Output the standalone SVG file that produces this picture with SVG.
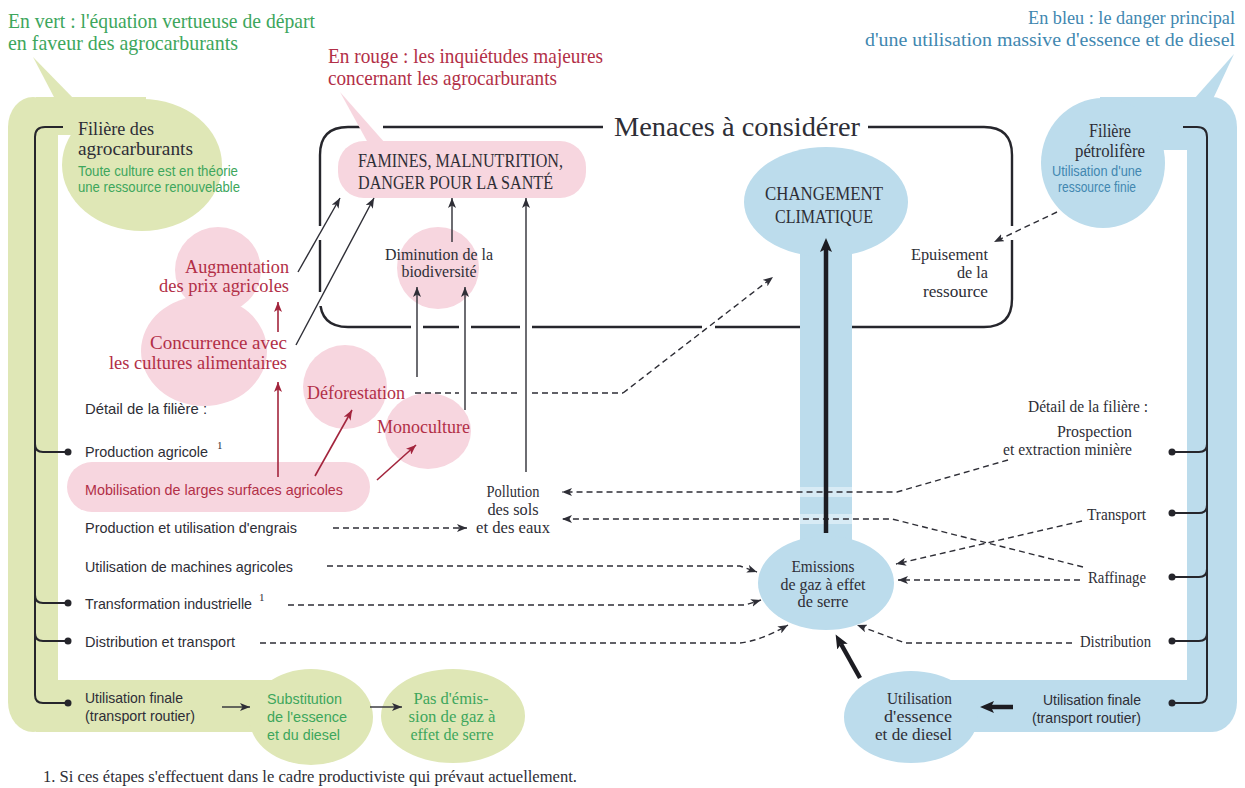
<svg xmlns="http://www.w3.org/2000/svg" width="1245" height="788" viewBox="0 0 1245 788">
<style>
  .sf{font-family:"Liberation Serif","Times New Roman",serif}
  .ss{font-family:"Liberation Sans",Arial,sans-serif}
  .dk{fill:#2e2e36}
  .gr{fill:#3da65c}
  .rd{fill:#b22f47}
  .bl{fill:#4187b0}
  .gfill{fill:#dfe7b6}
  .pfill{fill:#f7d6df}
  .bfill{fill:#bcdcec}
  .ln{fill:none;stroke:#26262c;stroke-width:2.4}
  .br{fill:none;stroke:#26262c;stroke-width:2}
  .dot{fill:#26262c}
  .ar{fill:none;stroke:#2e2e36;stroke-width:1.4;marker-end:url(#ah)}
  .ard{fill:none;stroke:#2e2e36;stroke-width:1.4;stroke-dasharray:6 4;marker-end:url(#ah)}
  .dsh{fill:none;stroke:#2e2e36;stroke-width:1.4;stroke-dasharray:6 4}
  .arr{fill:none;stroke:#a3253d;stroke-width:1.6;marker-end:url(#ahr)}
  .thk{fill:none;stroke:#1c1c22;stroke-width:4.5;marker-end:url(#ahb)}
  .gap{fill:#ffffff}
  .e{text-anchor:end}
  .m{text-anchor:middle}
</style>
<defs>
  <marker id="ah" viewBox="0 0 10 8" refX="10" refY="4" markerWidth="10" markerHeight="8" orient="auto" markerUnits="userSpaceOnUse">
    <path d="M0,0 L10,4 L0,8 L2.5,4 z" fill="#2e2e36"/>
  </marker>
  <marker id="ahr" viewBox="0 0 10 8" refX="10" refY="4" markerWidth="10" markerHeight="8" orient="auto" markerUnits="userSpaceOnUse">
    <path d="M0,0 L10,4 L0,8 L2.5,4 z" fill="#a3253d"/>
  </marker>
  <marker id="ahb" viewBox="0 0 14 12" refX="3" refY="6" markerWidth="14" markerHeight="12" orient="auto" markerUnits="userSpaceOnUse">
    <path d="M0,0 L14,6 L0,12 L3,6 z" fill="#1c1c22"/>
  </marker>
</defs>

<rect width="1245" height="788" fill="#ffffff"/>

<!-- green chain: biofuels -->
<g id="filiere-agro">
  <rect class="gfill" x="8" y="97" width="50" height="635" rx="30"/>
  <rect class="gfill" x="36" y="97" width="110" height="38"/>
  <rect class="gfill" x="36" y="680" width="270" height="52"/>
  <ellipse class="gfill" cx="142" cy="165" rx="80" ry="66"/>
  <polygon class="gfill" points="33,57 55,99 74,99"/>
  <path class="br" d="M63,127 H45 Q35,127 35,137 V695 Q35,703 43,703 H68"/>
  <path class="br" d="M35,444 Q35,452 43,452 H68 M35,595 Q35,603 43,603 H68 M35,633 Q35,641 43,641 H68"/>
  <circle class="dot" cx="68" cy="452" r="3.5"/>
  <circle class="dot" cx="68" cy="603" r="3.5"/>
  <circle class="dot" cx="68" cy="641" r="3.5"/>
  <circle class="dot" cx="68" cy="703" r="3.5"/>
  <text class="sf dk" x="78" y="135" font-size="19" textLength="76" lengthAdjust="spacingAndGlyphs">Filière des</text>
  <text class="sf dk" x="78" y="155" font-size="19" textLength="115" lengthAdjust="spacingAndGlyphs">agrocarburants</text>
  <text class="ss gr" x="78" y="176" font-size="14" textLength="160" lengthAdjust="spacingAndGlyphs">Toute culture est en théorie</text>
  <text class="ss gr" x="78" y="192" font-size="14" textLength="162" lengthAdjust="spacingAndGlyphs">une ressource renouvelable</text>
  <text class="ss dk" x="85" y="414" font-size="14.5" textLength="122" lengthAdjust="spacingAndGlyphs">Détail de la filière :</text>
  <text class="ss dk" x="85" y="457" font-size="14.5" textLength="123" lengthAdjust="spacingAndGlyphs">Production agricole</text>
  <text class="sf dk" x="217" y="449" font-size="11">1</text>
  <text class="ss dk" x="85" y="533" font-size="14.5" textLength="212" lengthAdjust="spacingAndGlyphs">Production et utilisation d'engrais</text>
  <text class="ss dk" x="85" y="572" font-size="14.5" textLength="208" lengthAdjust="spacingAndGlyphs">Utilisation de machines agricoles</text>
  <text class="ss dk" x="85" y="609" font-size="14.5" textLength="167" lengthAdjust="spacingAndGlyphs">Transformation industrielle</text>
  <text class="sf dk" x="259" y="601" font-size="11">1</text>
  <text class="ss dk" x="85" y="647" font-size="14.5" textLength="150" lengthAdjust="spacingAndGlyphs">Distribution et transport</text>
  <text class="ss dk" x="85" y="703" font-size="14.5" textLength="98" lengthAdjust="spacingAndGlyphs">Utilisation finale</text>
  <text class="ss dk" x="85" y="721" font-size="14.5" textLength="110" lengthAdjust="spacingAndGlyphs">(transport routier)</text>
</g>

<g id="substitution">
  <ellipse class="gfill" cx="311" cy="717" rx="62" ry="48"/>
  <text class="ss gr" x="267" y="704" font-size="15" textLength="75" lengthAdjust="spacingAndGlyphs">Substitution</text>
  <text class="ss gr" x="267" y="722" font-size="15" textLength="80" lengthAdjust="spacingAndGlyphs">de l'essence</text>
  <text class="ss gr" x="267" y="740" font-size="15" textLength="73" lengthAdjust="spacingAndGlyphs">et du diesel</text>
</g>

<g id="pas-emission">
  <ellipse class="gfill" cx="453" cy="716" rx="72" ry="47"/>
  <text class="sf gr m" x="451" y="704" font-size="17" textLength="75" lengthAdjust="spacingAndGlyphs">Pas d'émis-</text>
  <text class="sf gr m" x="452" y="722" font-size="17" textLength="87" lengthAdjust="spacingAndGlyphs">sion de gaz à</text>
  <text class="sf gr m" x="452" y="740" font-size="17" textLength="83" lengthAdjust="spacingAndGlyphs">effet de serre</text>
</g>

<!-- blue chain: oil -->
<g id="filiere-petrole">
  <rect class="bfill" x="1187" y="97" width="50" height="635" rx="30"/>
  <rect class="bfill" x="1100" y="97" width="110" height="53"/>
  <rect class="bfill" x="911" y="680" width="300" height="52"/>
  <ellipse class="bfill" cx="1103" cy="163" rx="62" ry="65"/>
  <polygon class="bfill" points="1234,54 1194,99 1213,99"/>
  <path class="br" d="M1183,127 H1197 Q1207,127 1207,137 V695 Q1207,703 1199,703 H1172"/>
  <path class="br" d="M1172,452 H1199 Q1207,452 1207,444 M1172,513 H1199 Q1207,513 1207,505 M1172,577 H1199 Q1207,577 1207,569 M1172,641 H1199 Q1207,641 1207,633"/>
  <circle class="dot" cx="1172" cy="452" r="3.5"/>
  <circle class="dot" cx="1172" cy="513" r="3.5"/>
  <circle class="dot" cx="1172" cy="577" r="3.5"/>
  <circle class="dot" cx="1172" cy="641" r="3.5"/>
  <circle class="dot" cx="1172" cy="703" r="3.5"/>
  <text class="sf dk m" x="1110" y="137" font-size="18" textLength="42" lengthAdjust="spacingAndGlyphs">Filière</text>
  <text class="sf dk m" x="1110" y="157" font-size="18" textLength="70" lengthAdjust="spacingAndGlyphs">pétrolifère</text>
  <text class="ss bl m" x="1097" y="176" font-size="14" textLength="90" lengthAdjust="spacingAndGlyphs">Utilisation d'une</text>
  <text class="ss bl m" x="1097" y="192" font-size="14" textLength="78" lengthAdjust="spacingAndGlyphs">ressource finie</text>
  <text class="sf dk e" x="1148" y="412" font-size="16" textLength="120" lengthAdjust="spacingAndGlyphs">Détail de la filière :</text>
  <text class="sf dk e" x="1132" y="437" font-size="16" textLength="75" lengthAdjust="spacingAndGlyphs">Prospection</text>
  <text class="sf dk e" x="1132" y="455" font-size="16" textLength="129" lengthAdjust="spacingAndGlyphs">et extraction minière</text>
  <text class="sf dk e" x="1146" y="520" font-size="16" textLength="59" lengthAdjust="spacingAndGlyphs">Transport</text>
  <text class="sf dk e" x="1146" y="583" font-size="16" textLength="58" lengthAdjust="spacingAndGlyphs">Raffinage</text>
  <text class="sf dk e" x="1151" y="647" font-size="16" textLength="71" lengthAdjust="spacingAndGlyphs">Distribution</text>
  <text class="ss dk e" x="1141" y="705" font-size="14.5" textLength="98" lengthAdjust="spacingAndGlyphs">Utilisation finale</text>
  <text class="ss dk e" x="1141" y="723" font-size="14.5" textLength="109" lengthAdjust="spacingAndGlyphs">(transport routier)</text>
</g>

<g id="utilisation-essence">
  <ellipse class="bfill" cx="911" cy="717" rx="67" ry="46"/>
  <text class="sf dk e" x="952" y="704" font-size="17" textLength="65" lengthAdjust="spacingAndGlyphs">Utilisation</text>
  <text class="sf dk e" x="952" y="722" font-size="17" textLength="68" lengthAdjust="spacingAndGlyphs">d'essence</text>
  <text class="sf dk e" x="952" y="740" font-size="17" textLength="77" lengthAdjust="spacingAndGlyphs">et de diesel</text>
</g>

<!-- climate change with its stem down to emissions -->
<g id="changement-climatique">
  <rect class="bfill" x="800" y="235" width="52" height="320"/>
  <rect x="800" y="487" width="52" height="10" fill="#d8ebf5"/>
  <rect x="800" y="514" width="52" height="10" fill="#d8ebf5"/>
  <ellipse class="bfill" cx="826" cy="202" rx="82" ry="55"/>
  <text class="sf dk m" x="824" y="200" font-size="19" textLength="118" lengthAdjust="spacingAndGlyphs">CHANGEMENT</text>
  <text class="sf dk m" x="824" y="223" font-size="19" textLength="98" lengthAdjust="spacingAndGlyphs">CLIMATIQUE</text>
</g>

<g id="emissions">
  <ellipse class="bfill" cx="826" cy="583" rx="68" ry="47"/>
  <text class="sf dk m" x="823" y="572" font-size="16" textLength="63" lengthAdjust="spacingAndGlyphs">Emissions</text>
  <text class="sf dk m" x="823" y="590" font-size="16" textLength="85" lengthAdjust="spacingAndGlyphs">de gaz à effet</text>
  <text class="sf dk m" x="823" y="607" font-size="16" textLength="51" lengthAdjust="spacingAndGlyphs">de serre</text>
</g>

<!-- threats frame -->
<g id="menaces">
  <path class="ln" d="M360,127 H348 Q320,127 320,155 V299 Q320,327 348,327 H800"/>
  <path class="ln" d="M383,127 H603"/>
  <path class="ln" d="M868,127 H984 Q1012,127 1012,155 V299 Q1012,327 984,327 H852"/>
  <rect class="gap" x="411" y="322" width="12" height="10"/>
  <rect class="gap" x="459" y="322" width="12" height="10"/>
  <rect class="gap" x="520" y="322" width="12" height="10"/>
  <rect class="gap" x="702" y="322" width="13" height="10"/>
  <rect class="gap" x="315" y="226" width="10" height="14"/>
  <rect class="gap" x="314" y="292" width="11" height="14"/>
  <rect class="gap" x="1007" y="226" width="10" height="14"/>
  <text class="sf dk" x="614" y="136" font-size="28" textLength="246" lengthAdjust="spacingAndGlyphs">Menaces à considérer</text>
</g>

<g id="famines">
  <polygon class="pfill" points="340,92 368,143 385,143"/>
  <rect class="pfill" x="338" y="141" width="248" height="57" rx="26"/>
  <text class="sf dk" x="358" y="167" font-size="18" textLength="205" lengthAdjust="spacingAndGlyphs">FAMINES, MALNUTRITION,</text>
  <text class="sf dk" x="358" y="189" font-size="18" textLength="195" lengthAdjust="spacingAndGlyphs">DANGER POUR LA SANTÉ</text>
</g>

<g id="augmentation-prix">
  <circle class="pfill" cx="218" cy="270" r="43"/>
  <text class="sf rd e" x="289" y="273" font-size="19" textLength="104" lengthAdjust="spacingAndGlyphs">Augmentation</text>
  <text class="sf rd e" x="289" y="292" font-size="19" textLength="130" lengthAdjust="spacingAndGlyphs">des prix agricoles</text>
</g>

<g id="concurrence">
  <ellipse class="pfill" cx="204" cy="351" rx="63" ry="55"/>
  <text class="sf rd e" x="287" y="349" font-size="19" textLength="137" lengthAdjust="spacingAndGlyphs">Concurrence avec</text>
  <text class="sf rd e" x="287" y="369" font-size="19" textLength="178" lengthAdjust="spacingAndGlyphs">les cultures alimentaires</text>
</g>

<g id="deforestation">
  <circle class="pfill" cx="345" cy="387" r="42"/>
  <text class="sf rd" x="307" y="399" font-size="19" textLength="98" lengthAdjust="spacingAndGlyphs">Déforestation</text>
</g>

<g id="monoculture">
  <ellipse class="pfill" cx="428" cy="431" rx="43" ry="38"/>
  <text class="sf rd" x="377" y="433" font-size="19" textLength="93" lengthAdjust="spacingAndGlyphs">Monoculture</text>
</g>

<g id="biodiversite">
  <circle class="pfill" cx="438" cy="268" r="41"/>
  <text class="sf dk m" x="439" y="260" font-size="16" textLength="108" lengthAdjust="spacingAndGlyphs">Diminution de la</text>
  <text class="sf dk m" x="439" y="277" font-size="16" textLength="75" lengthAdjust="spacingAndGlyphs">biodiversité</text>
</g>

<g id="mobilisation">
  <rect class="pfill" x="67" y="462" width="303" height="50" rx="25"/>
  <text class="ss rd" x="85" y="495" font-size="15" textLength="258" lengthAdjust="spacingAndGlyphs">Mobilisation de larges surfaces agricoles</text>
</g>

<g id="pollution">
  <text class="sf dk m" x="513" y="497" font-size="16" textLength="53" lengthAdjust="spacingAndGlyphs">Pollution</text>
  <text class="sf dk m" x="513" y="515" font-size="16" textLength="51" lengthAdjust="spacingAndGlyphs">des sols</text>
  <text class="sf dk m" x="513" y="533" font-size="16" textLength="74" lengthAdjust="spacingAndGlyphs">et des eaux</text>
</g>

<g id="epuisement">
  <text class="sf dk e" x="988" y="260" font-size="16" textLength="77" lengthAdjust="spacingAndGlyphs">Epuisement</text>
  <text class="sf dk e" x="988" y="278" font-size="16" textLength="31" lengthAdjust="spacingAndGlyphs">de la</text>
  <text class="sf dk e" x="988" y="297" font-size="16" textLength="65" lengthAdjust="spacingAndGlyphs">ressource</text>
</g>

<g id="legendes">
  <text class="sf gr" x="8" y="28" font-size="21" textLength="307" lengthAdjust="spacingAndGlyphs">En vert : l'équation vertueuse de départ</text>
  <text class="sf gr" x="8" y="50" font-size="21" textLength="230" lengthAdjust="spacingAndGlyphs">en faveur des agrocarburants</text>
  <text class="sf rd" x="328" y="63" font-size="21" textLength="275" lengthAdjust="spacingAndGlyphs">En rouge : les inquiétudes majeures</text>
  <text class="sf rd" x="328" y="85" font-size="21" textLength="229" lengthAdjust="spacingAndGlyphs">concernant les agrocarburants</text>
  <text class="sf bl e" x="1235" y="24" font-size="18.5" textLength="207" lengthAdjust="spacingAndGlyphs">En bleu : le danger principal</text>
  <text class="sf bl e" x="1235" y="46" font-size="18.5" textLength="370" lengthAdjust="spacingAndGlyphs">d'une utilisation massive d'essence et de diesel</text>
  <text class="sf dk" x="43" y="782" font-size="16" textLength="534" lengthAdjust="spacingAndGlyphs">1. Si ces étapes s'effectuent dans le cadre productiviste qui prévaut actuellement.</text>
</g>

<g id="connecteurs">
  <!-- solid causal links -->
  <path class="ar" d="M298,272 L340,198"/>
  <path class="ar" d="M296,345 L374,198"/>
  <path class="ar" d="M452,242 V198"/>
  <path class="ar" d="M526,472 V198"/>
  <path class="ar" d="M417,377 V287"/>
  <path class="ar" d="M465,410 V287"/>
  <path class="ar" d="M222,707 H250"/>
  <path class="ar" d="M370,707 H402"/>
  <!-- red links -->
  <path class="arr" d="M278,332 V302"/>
  <path class="arr" d="M278,477 V382"/>
  <path class="arr" d="M315,476 L352,410"/>
  <path class="arr" d="M377,480 L416,445"/>
  <!-- deforestation towards climate -->
  <path class="dsh" d="M415,393 H459 M471,393 H520 M532,393 H623"/>
  <path class="ard" d="M623,393 L773,277"/>
  <!-- dashed emission and pollution links -->
  <path class="ard" d="M333,528 H467"/>
  <path class="ard" d="M327,566 H740 L757,572"/>
  <path class="ard" d="M288,605 H745 L761,600"/>
  <path class="ard" d="M260,643 H740 Q760,641 788,625"/>
  <path class="ard" d="M1008,460 L897,492 H562"/>
  <path class="ard" d="M1083,567 L892,519 H562"/>
  <path class="ard" d="M1082,521 L896,564"/>
  <path class="ard" d="M1080,580 H898"/>
  <path class="ard" d="M1072,643 H905 L857,625"/>
  <path class="ard" d="M1057,212 L994,242"/>
  <!-- heavy arrows -->
  <path class="thk" d="M826,533 V249"/>
  <path class="thk" d="M860,678 L841,644"/>
  <path class="thk" d="M1013,707 H991"/>
</g>
</svg>
